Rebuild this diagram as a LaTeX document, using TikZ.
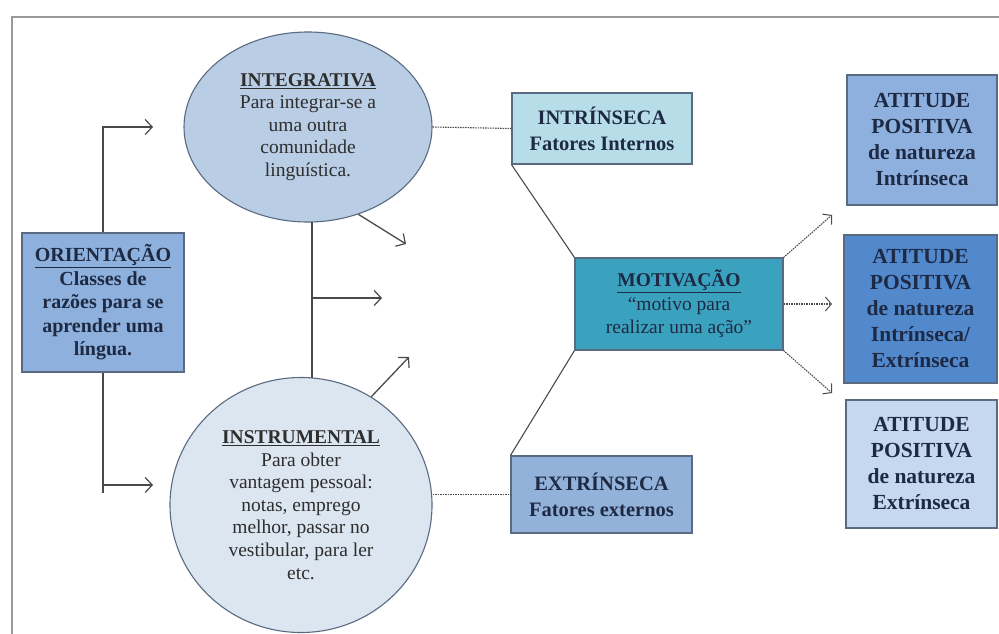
\documentclass[tikz,border=0pt]{standalone}
\usepackage{fontspec}
\setmainfont{Liberation Serif}
\usetikzlibrary{shapes.geometric,arrows.meta}
\definecolor{txt}{HTML}{1E2A44}
\definecolor{gtxt}{HTML}{2E2E2E}
\definecolor{edge}{HTML}{5A6A80}
\definecolor{lne}{HTML}{4A4A4A}
\definecolor{cInteg}{HTML}{B9CDE5}
\definecolor{cInstr}{HTML}{DCE6F1}
\definecolor{cOrient}{HTML}{8EB0DC}
\definecolor{cIntr}{HTML}{B6DDE8}
\definecolor{cExtr}{HTML}{93B2DA}
\definecolor{cMotiv}{HTML}{3AA2BE}
\definecolor{cAt1}{HTML}{8DB0DE}
\definecolor{cAt2}{HTML}{5288CC}
\definecolor{cAt3}{HTML}{C5D8F0}
\tikzset{
  shp/.style={draw=edge, line width=1.1pt, inner sep=0pt, align=center, text=txt},
  ell/.style={shp, ellipse, text=gtxt},
  boxn/.style={shp, rectangle},
  conn/.style={draw=lne, line width=1.3pt},
  arr/.style={conn, -{Straight Barb[length=7pt,width=15pt,line width=1.2pt]}},
  dotl/.style={draw=lne, line width=1.1pt, dash pattern=on 1.5pt off 1pt},
  darr/.style={dotl, -{Straight Barb[length=6pt,width=14pt,line width=1pt]}},
  frame/.style={draw=gray!80, line width=2pt},
  fs/.style={font=\fontsize{19.5}{22.6}\selectfont},
  fsm/.style={font=\fontsize{19.5}{23.5}\selectfont},
  fb/.style={font=\fontsize{20}{23.5}\selectfont\bfseries},
  fbi/.style={font=\fontsize{20.5}{26}\selectfont\bfseries},
  fa/.style={font=\fontsize{21.5}{26}\selectfont\bfseries},
}
\begin{document}
\begin{tikzpicture}[x=1pt,y=-1pt]
\useasboundingbox (0,0) rectangle (999,634);
\fill[white] (0,0) rectangle (999,634);
\draw[frame] (12,634) -- (12,17) -- (999,17);

% nodes
\node[ell, fill=cInteg, minimum width=248, minimum height=190, fs] (integ) at (308,127)
  {\textbf{\underline{INTEGRATIVA}}\\Para integrar-se a\\uma outra\\comunidade\\linguística.};
\node[ell, fill=cInstr, minimum width=262, minimum height=255, fs] (instr) at (301,505)
  {\textbf{\underline{INSTRUMENTAL}}\\Para obter\\vantagem pessoal:\\notas, emprego\\melhor, passar no\\vestibular, para ler\\etc.};
\node[boxn, fill=cOrient, minimum width=162, minimum height=139, fb] (orient) at (103,302.5)
  {\underline{ORIENTAÇÃO}\\Classes de\\razões para se\\aprender uma\\língua.};
\node[boxn, fill=cIntr, minimum width=180, minimum height=71, fbi] (intr) at (602,128.5)
  {INTRÍNSECA\\Fatores Internos};
\node[boxn, fill=cExtr, minimum width=181, minimum height=77, fbi] (extr) at (601.5,494.5)
  {EXTRÍNSECA\\Fatores externos};
\node[boxn, fill=cMotiv, minimum width=208, minimum height=92, fsm] (motiv) at (679,304)
  {\textbf{\underline{MOTIVAÇÃO}}\\“motivo para\\realizar uma ação”};
\node[boxn, fill=cAt1, minimum width=150, minimum height=130, fa] (at1) at (922,140)
  {ATITUDE\\POSITIVA\\de natureza\\Intrínseca};
\node[boxn, fill=cAt2, minimum width=153, minimum height=148, fa] (at2) at (920.5,309)
  {ATITUDE\\POSITIVA\\de natureza\\Intrínseca/\\Extrínseca};
\node[boxn, fill=cAt3, minimum width=151, minimum height=128, fa] (at3) at (921.5,464)
  {ATITUDE\\POSITIVA\\de natureza\\Extrínseca};

% free ends
\coordinate (oa1) at (153,127);
\coordinate (oa2) at (153,485);
\coordinate (ob2) at (103,493);
\coordinate (vm) at (312,298);
\coordinate (va) at (382,298);
\coordinate (ia1) at (406,244);
\coordinate (ia2) at (409,357);
\coordinate (ma1) at (832,215);
\coordinate (ma2) at (832,304);
\coordinate (ma3) at (832,393);
\coordinate (vt) at (312,222);
\coordinate (vb) at (312,378);

% connectors
\draw[arr] (orient.north) |- (oa1);
\draw[conn] (orient.south) -- (ob2);
\draw[arr] (orient.south |- oa2) -- (oa2);
\draw[conn] (vt) -- (vb);
\draw[arr] (vm) -- (va);
\draw[arr] (integ.-60) -- (ia1);
\draw[arr] (instr.57) -- (ia2);
\draw[dotl] (integ.east) -- (intr.west);
\draw[dotl] (extr.west -| instr.east) -- (extr.west);
\draw[conn, line width=1.1pt] (intr.south west) -- (motiv.north west);
\draw[conn, line width=1.1pt] (motiv.south west) -- (extr.north west);
\draw[darr] (motiv.north east) -- (ma1);
\draw[darr] (motiv.east) -- (ma2);
\draw[darr] (motiv.south east) -- (ma3);
\end{tikzpicture}
\end{document}
